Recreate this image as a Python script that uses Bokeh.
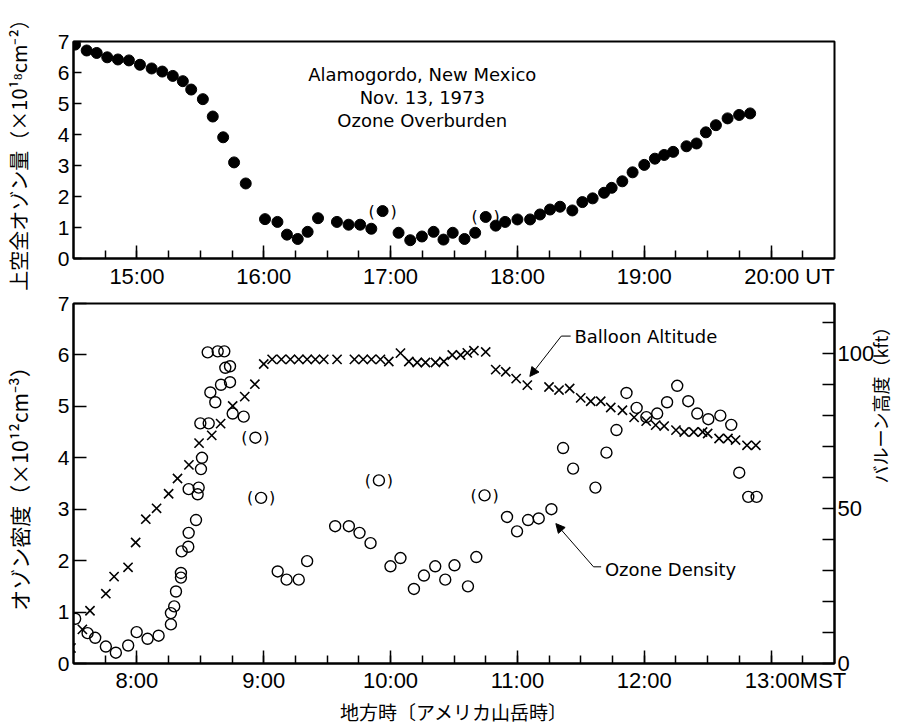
import math
from bokeh.plotting import figure
from bokeh.models import (FixedTicker, CustomJSTickFormatter, LinearAxis, Range1d,
                          Label, Arrow, NormalHead)
from bokeh.layouts import column
from bokeh.core.properties import value
from bokeh.embed import file_html
from bokeh.resources import INLINE

# ---------------- data ----------------
# Top panel: ozone overburden, time in UT (decimal hours), value in 10^18 cm^-2
ut_time = [14.512, 14.604, 14.683, 14.766, 14.85, 14.937, 15.024, 15.116, 15.2, 15.283,
           15.362, 15.428, 15.52, 15.598, 15.68, 15.766, 15.858, 16.01, 16.108, 16.183,
           16.268, 16.346, 16.428, 16.577, 16.669, 16.76, 16.848, 17.063, 17.155, 17.247,
           17.339, 17.417, 17.49, 17.583, 17.667, 17.829, 17.903, 18.0, 18.1, 18.178,
           18.257, 18.336, 18.433, 18.512, 18.593, 18.683, 18.743, 18.827, 18.908, 19.0,
           19.084, 19.157, 19.228, 19.333, 19.412, 19.486, 19.565, 19.657, 19.748, 19.835]
overburden = [6.90, 6.71, 6.63, 6.49, 6.42, 6.39, 6.25, 6.13, 6.03, 5.89,
              5.72, 5.45, 5.14, 4.58, 3.91, 3.10, 2.42, 1.27, 1.18, 0.77,
              0.63, 0.86, 1.30, 1.18, 1.09, 1.09, 0.96, 0.83, 0.59, 0.71,
              0.86, 0.61, 0.83, 0.63, 0.83, 1.06, 1.18, 1.26, 1.26, 1.42,
              1.58, 1.67, 1.55, 1.82, 1.94, 2.12, 2.28, 2.49, 2.78, 3.02,
              3.22, 3.34, 3.44, 3.62, 3.71, 4.07, 4.30, 4.52, 4.63, 4.68]
# questionable (bracketed) overburden points
ut_bracket_time = [16.937, 17.75]
overburden_bracket = [1.53, 1.34]

# Bottom panel: ozone density (10^12 cm^-3), time in MST
mst_ozone_time = [7.513, 7.611, 7.671, 7.755, 7.834, 7.931, 7.998, 8.084, 8.171, 8.268,
                  8.268, 8.294, 8.308, 8.347, 8.347, 8.353, 8.405, 8.408, 8.466, 8.408,
                  8.479, 8.487, 8.505, 8.513, 8.500, 8.566, 8.579, 8.618, 8.558, 8.637,
                  8.689, 8.663, 8.734, 8.697, 8.734, 8.755, 8.842,
                  9.11, 9.18, 9.276, 9.342, 9.563, 9.671, 9.755, 9.842, 9.999, 10.078,
                  10.184, 10.263, 10.352, 10.431, 10.504, 10.61, 10.676,
                  10.918, 10.997, 11.084, 11.168, 11.268, 11.36, 11.439, 11.615, 11.702, 11.781,
                  11.86, 11.94, 12.017, 12.102, 12.18, 12.26, 12.347, 12.418, 12.505, 12.6,
                  12.686, 12.749, 12.82, 12.886]
ozone_density = [0.87, 0.59, 0.50, 0.33, 0.21, 0.35, 0.61, 0.48, 0.54, 0.76,
                 0.98, 1.11, 1.40, 1.67, 1.76, 2.18, 2.27, 2.54, 2.79, 3.39,
                 3.29, 3.42, 3.78, 4.00, 4.67, 4.67, 5.27, 5.08, 6.05, 6.07,
                 6.07, 5.42, 5.47, 5.75, 5.78, 4.86, 4.80,
                 1.79, 1.63, 1.63, 1.99, 2.67, 2.67, 2.54, 2.34, 1.89, 2.05,
                 1.45, 1.71, 1.89, 1.63, 1.91, 1.50, 2.07,
                 2.85, 2.57, 2.79, 2.82, 3.00, 4.19, 3.79, 3.42, 4.10, 4.54,
                 5.26, 4.97, 4.79, 4.86, 5.08, 5.40, 5.10, 4.86, 4.75, 4.82,
                 4.64, 3.71, 3.24, 3.24]
# questionable (bracketed) ozone density points
mst_bracket_time = [8.934, 8.979, 9.908, 10.741]
ozone_density_bracket = [4.39, 3.22, 3.56, 3.27]

# Balloon altitude (kft), time in MST
mst_balloon_time = [7.48, 7.57, 7.63, 7.755, 7.82, 7.93, 7.99, 8.07, 8.155, 8.25,
                    8.32, 8.41, 8.49, 8.59, 8.66, 8.755, 8.85, 8.93, 9.0, 9.066,
                    9.139, 9.21, 9.276, 9.342, 9.407, 9.473, 9.578, 9.715, 9.784, 9.849,
                    9.92, 9.986, 10.078, 10.144, 10.21, 10.275, 10.354, 10.42, 10.486, 10.552,
                    10.605, 10.657, 10.75, 10.829, 10.908, 10.99, 11.078, 11.249, 11.328, 11.412,
                    11.499, 11.578, 11.657, 11.736, 11.828, 11.92, 12.015, 12.09, 12.157, 12.25,
                    12.315, 12.39, 12.46, 12.5, 12.59, 12.66, 12.72, 12.81, 12.88]
balloon_alt_kft = [5, 11, 17, 22.5, 28, 31, 39, 46.5, 50, 54.7,
                   59.6, 64, 71, 73.5, 77.3, 83, 86, 90, 96.5, 98,
                   98, 98, 98, 98, 98, 98, 98, 98, 98, 98,
                   98, 97.3, 100, 97.3, 97, 97, 97, 97.3, 99.4, 99.4,
                   100.1, 100.8, 100.4, 94.7, 94, 91.8, 89.7, 89.1, 88.1, 88.6,
                   85.6, 84.5, 84.5, 82.5, 81.6, 79.3, 78.1, 76.8, 76.5, 75.2,
                   74.6, 74.6, 74.6, 74.1, 72.5, 72.5, 72, 70.3, 70.3]

ut_hours = [15, 16, 17, 18, 19, 20]
ut_quarters = [14.75 + 0.25 * i for i in range(23)]
mst_hours = [8, 9, 10, 11, 12, 13]
mst_quarters = [7.75 + 0.25 * i for i in range(23)]
density_ticks = [0, 1, 2, 3, 4, 5, 6, 7]
overburden_ticks = [0, 1, 2, 3, 4, 5, 6, 7]
alt_major = [0, 50, 100]
alt_minor = [10, 20, 30, 40, 60, 70, 80, 90, 110]

# ---------------- styling ----------------
NUM_FONT = "Liberation Sans"
CJK_FONT = "Noto Sans CJK JP"
TXT_FONT = "DejaVu Sans"


def hour_formatter(last_hour, unit, pad, gap):
    # hour labels "15:00"; the last hour carries the time-zone unit after it,
    # padded in front so that the hour text itself stays centred on its tick
    return CustomJSTickFormatter(
        args=dict(last=last_hour, unit=unit, pad=pad, gap=gap),
        code="""
const h = Math.round(tick);
const s = h + ':00';
if (h === last) { return '\\u00a0'.repeat(pad) + s + '\\u00a0'.repeat(gap) + unit; }
return s;
""")


def style_axis(ax, tick_in, minor_in, label_size="22px"):
    ax.axis_line_width = 2
    ax.axis_line_color = "black"
    ax.major_tick_in = tick_in
    ax.major_tick_out = 0
    ax.minor_tick_in = minor_in
    ax.minor_tick_out = 0
    ax.major_tick_line_width = 1.5
    ax.minor_tick_line_width = 1.5
    ax.major_label_text_font = NUM_FONT
    ax.major_label_text_font_size = label_size
    ax.major_label_text_color = "black"
    ax.axis_label_text_font = CJK_FONT
    ax.axis_label_text_font_style = "normal"
    ax.axis_label_text_color = "black"


def base_fig(fw, fh, xr, yr, bl, br, bt, bb):
    p = figure(frame_width=fw, frame_height=fh, x_range=xr, y_range=yr,
               output_backend="svg", toolbar_location=None,
               min_border_left=bl, min_border_right=br,
               min_border_top=bt, min_border_bottom=bb)
    p.grid.visible = False
    p.outline_line_color = "black"
    p.outline_line_width = 2
    p.outline_line_alpha = 1
    p.background_fill_color = "white"
    p.border_fill_color = "white"
    return p


FW = 761
BL = 68
BR = 62

# ---------------- top panel ----------------
p1 = base_fig(FW, 217, (14.5, 20.5), (0, 7), BL, BR, 41, 30)
p1.xaxis.ticker = FixedTicker(ticks=ut_hours, minor_ticks=ut_quarters)
p1.xaxis.formatter = hour_formatter(20, "UT", 6, 1)
p1.yaxis.ticker = FixedTicker(ticks=overburden_ticks, minor_ticks=[])
for ax in p1.xaxis:
    style_axis(ax, 13, 8)
    ax.major_label_standoff = 5
for ax in p1.yaxis:
    style_axis(ax, 8, 0, "21px")
    ax.major_label_standoff = 4
    ax.axis_label = "上空全オゾン量（×10¹⁸cm⁻²）"
    ax.axis_label_text_font_size = "20px"
    ax.axis_label_standoff = 22

p1.scatter(ut_time, overburden, marker="circle", size=11,
           fill_color="black", line_color="black")
p1.scatter(ut_bracket_time, overburden_bracket, marker="circle", size=11,
           fill_color="black", line_color="black")
p1.text(ut_bracket_time, overburden_bracket, text=["("] * len(ut_bracket_time),
        x_offset=-11, text_align="center", text_baseline="middle",
        text_font=value(TXT_FONT), text_font_size="16px", text_color="black")
p1.text(ut_bracket_time, overburden_bracket, text=[")"] * len(ut_bracket_time),
        x_offset=11, text_align="center", text_baseline="middle",
        text_font=value(TXT_FONT), text_font_size="16px", text_color="black")

for txt, yv in [("Alamogordo, New Mexico", 5.94), ("Nov. 13, 1973", 5.2),
                ("Ozone Overburden", 4.46)]:
    p1.add_layout(Label(x=17.25, y=yv, text=txt, text_align="center",
                        text_baseline="middle", text_font=TXT_FONT,
                        text_font_size="18px", text_color="black"))

# ---------------- bottom panel ----------------
p2 = base_fig(FW, 360, (7.5, 13.5), (0, 7), BL, BR, 12, 52)
p2.extra_y_ranges = {"alt": Range1d(0, 116)}
p2.xaxis.ticker = FixedTicker(ticks=mst_hours, minor_ticks=mst_quarters)
p2.xaxis.formatter = hour_formatter(13, "MST", 8, 0)
p2.yaxis.ticker = FixedTicker(ticks=density_ticks, minor_ticks=[])
for ax in p2.xaxis:
    style_axis(ax, 13, 8)
    ax.major_label_standoff = 4
    ax.axis_label = "地方時〔アメリカ山岳時〕"
    ax.axis_label_text_font_size = "19px"
    ax.axis_label_standoff = 2
for ax in p2.yaxis:
    style_axis(ax, 13, 0, "21px")
    ax.major_label_standoff = 4
    ax.axis_label = "オゾン密度（×10¹²cm⁻³）"
    ax.axis_label_text_font_size = "21px"
    ax.axis_label_standoff = 21

ax_r = LinearAxis(y_range_name="alt",
                  ticker=FixedTicker(ticks=alt_major, minor_ticks=alt_minor))
style_axis(ax_r, 12, 12, "22px")
ax_r.major_label_standoff = 3
ax_r.axis_label = "バルーン高度（kft）"
ax_r.axis_label_text_font_size = "18px"
ax_r.axis_label_standoff = 3
if "axis_label_orientation" in ax_r.properties():
    ax_r.axis_label_orientation = math.pi / 2
p2.add_layout(ax_r, "right")

p2.scatter(mst_ozone_time, ozone_density, marker="circle", size=11,
           fill_color=None, line_color="black", line_width=1.4)
p2.scatter(mst_bracket_time, ozone_density_bracket, marker="circle", size=11,
           fill_color=None, line_color="black", line_width=1.4)
p2.text(mst_bracket_time, ozone_density_bracket, text=["("] * len(mst_bracket_time),
        x_offset=-11, text_align="center", text_baseline="middle",
        text_font=value(TXT_FONT), text_font_size="16px", text_color="black")
p2.text(mst_bracket_time, ozone_density_bracket, text=[")"] * len(mst_bracket_time),
        x_offset=11, text_align="center", text_baseline="middle",
        text_font=value(TXT_FONT), text_font_size="16px", text_color="black")
p2.scatter(mst_balloon_time, balloon_alt_kft, y_range_name="alt", marker="x",
           size=13, line_color="black", line_width=1.6)

# annotation: Balloon Altitude
bi = 46
b_tip = (mst_balloon_time[bi] + 0.02, balloon_alt_kft[bi] + 2.8)
b_knee = (11.346, 105.5)
p2.add_layout(Arrow(end=NormalHead(size=9, fill_color="black", line_color="black", line_width=1),
                    x_start=b_knee[0], y_start=b_knee[1], x_end=b_tip[0], y_end=b_tip[1],
                    y_range_name="alt", line_width=1, line_color="black"))
p2.add_layout(Arrow(end=None, x_start=b_knee[0], y_start=b_knee[1], x_end=11.42, y_end=b_knee[1],
                    y_range_name="alt", line_width=1, line_color="black"))
p2.add_layout(Label(x=11.45, y=b_knee[1], y_range_name="alt", text="Balloon Altitude",
                    text_align="left", text_baseline="middle", text_font=TXT_FONT,
                    text_font_size="18px", text_color="black"))

# annotation: Ozone Density
oi = 58
o_tip = (mst_ozone_time[oi] + 0.035, ozone_density[oi] - 0.28)
o_knee = (11.6, 1.88)
p2.add_layout(Arrow(end=NormalHead(size=9, fill_color="black", line_color="black", line_width=1),
                    x_start=o_knee[0], y_start=o_knee[1], x_end=o_tip[0], y_end=o_tip[1],
                    line_width=1, line_color="black"))
p2.add_layout(Arrow(end=None, x_start=o_knee[0], y_start=o_knee[1], x_end=11.66, y_end=o_knee[1],
                    line_width=1, line_color="black"))
p2.add_layout(Label(x=11.69, y=1.82, text="Ozone Density",
                    text_align="left", text_baseline="middle", text_font=TXT_FONT,
                    text_font_size="18px", text_color="black"))

layout = column(p1, p2)
open("out.html", "w").write(file_html(layout, INLINE))
